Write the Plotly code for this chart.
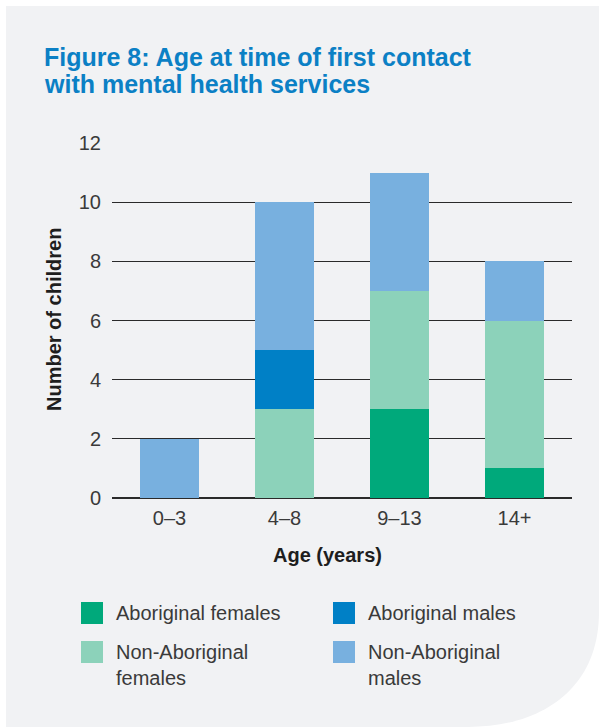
import plotly.graph_objects as go

# Age groups and counts of children per group
age_groups = ["0–3", "4–8", "9–13", "14+"]
aboriginal_females = [0, 0, 3, 1]
non_aboriginal_females = [0, 3, 4, 5]
aboriginal_males = [0, 2, 0, 0]
non_aboriginal_males = [2, 5, 4, 2]
y_ticks = [0, 2, 4, 6, 8, 10, 12]

series = [
    ("Aboriginal females", aboriginal_females, "#00a97b"),
    ("Non-Aboriginal females", non_aboriginal_females, "#8cd2ba"),
    ("Aboriginal males", aboriginal_males, "#0080c6"),
    ("Non-Aboriginal males", non_aboriginal_males, "#78b0df"),
]

W, H = 599, 727
L, R, T, B = 112, 27, 143, 229


def px(x):
    return (x - L) / (W - L - R)


def py(y):
    return (H - B - y) / (H - T - B)


FONT = "Liberation Sans, Arial, sans-serif"
TEXT = "#3a3a3a"

fig = go.Figure()
for name, vals, color in series:
    fig.add_trace(go.Bar(x=age_groups, y=vals, name=name,
                         marker=dict(color=color, line=dict(width=0)),
                         showlegend=False))

shapes = []
# grey panel with rounded bottom-right corner
panel = (f"M {px(6)},{py(6)} L {px(599)},{py(6)} L {px(599)},{py(612)} "
         f"C {px(599)},{py(690)} {px(540)},{py(727)} {px(468)},{py(727)} "
         f"L {px(6)},{py(727)} Z")
shapes.append(dict(type="path", path=panel, xref="paper", yref="paper",
                   fillcolor="#f1f2f4", line=dict(width=0), layer="below"))

# legend swatches and labels
legend_items = [
    ("Aboriginal females", "#00a97b", 81, 613),
    ("Aboriginal males", "#0080c6", 333, 613),
    ("Non-Aboriginal<br>females", "#8cd2ba", 81, 652),
    ("Non-Aboriginal<br>males", "#78b0df", 333, 652),
]
annotations = []
for label, color, x0, yc in legend_items:
    shapes.append(dict(type="rect", xref="paper", yref="paper",
                       x0=px(x0), x1=px(x0 + 22), y0=py(yc - 11), y1=py(yc + 11),
                       fillcolor=color, line=dict(width=0)))
    annotations.append(dict(text=label, xref="paper", yref="paper",
                            x=px(x0 + 33), y=py(yc - 13), xanchor="left", yanchor="top",
                            align="left", showarrow=False,
                            font=dict(family=FONT, size=20, color=TEXT)))

# two-line heading, one annotation per line for tighter leading
title_lines = [("Figure 8: Age at time of first contact", 56.5),
               ("with mental health services", 84)]
for line, yc in title_lines:
    annotations.append(dict(
        text=f"<b>{line}</b>", xref="paper", yref="paper",
        x=px(42), y=py(yc), xanchor="left", yanchor="middle",
        align="left", showarrow=False,
        font=dict(family=FONT, size=25, color="#0b80c5")))

annotations.append(dict(text="<b>Number of children</b>", xref="paper", yref="paper",
                        x=px(54), y=py(320), textangle=-90, showarrow=False,
                        xanchor="center", yanchor="middle",
                        font=dict(family=FONT, size=20, color="#1e1e1e")))
annotations.append(dict(text="<b>Age (years)</b>", xref="paper", yref="paper",
                        x=px(327), y=py(555), showarrow=False,
                        xanchor="center", yanchor="middle",
                        font=dict(family=FONT, size=20, color="#1e1e1e")))

fig.update_layout(
    width=W, height=H,
    margin=dict(l=L, r=R, t=T, b=B),
    barmode="stack", bargap=0.48,
    paper_bgcolor="white", plot_bgcolor="rgba(0,0,0,0)",
    shapes=shapes, annotations=annotations,
    font=dict(family=FONT, size=20, color=TEXT),
    xaxis=dict(showgrid=False, showline=False, ticks="", ticklabelstandoff=6,
               tickfont=dict(size=20, color=TEXT)),
    yaxis=dict(range=[0, 12], tickvals=y_ticks, showgrid=True, gridcolor="#2a2a2a",
               gridwidth=1, zeroline=True, zerolinecolor="#2a2a2a", zerolinewidth=1.5,
               showline=False, ticks="", ticklabelstandoff=10,
               tickfont=dict(size=20, color=TEXT)),
)

fig.write_html("out.html")
